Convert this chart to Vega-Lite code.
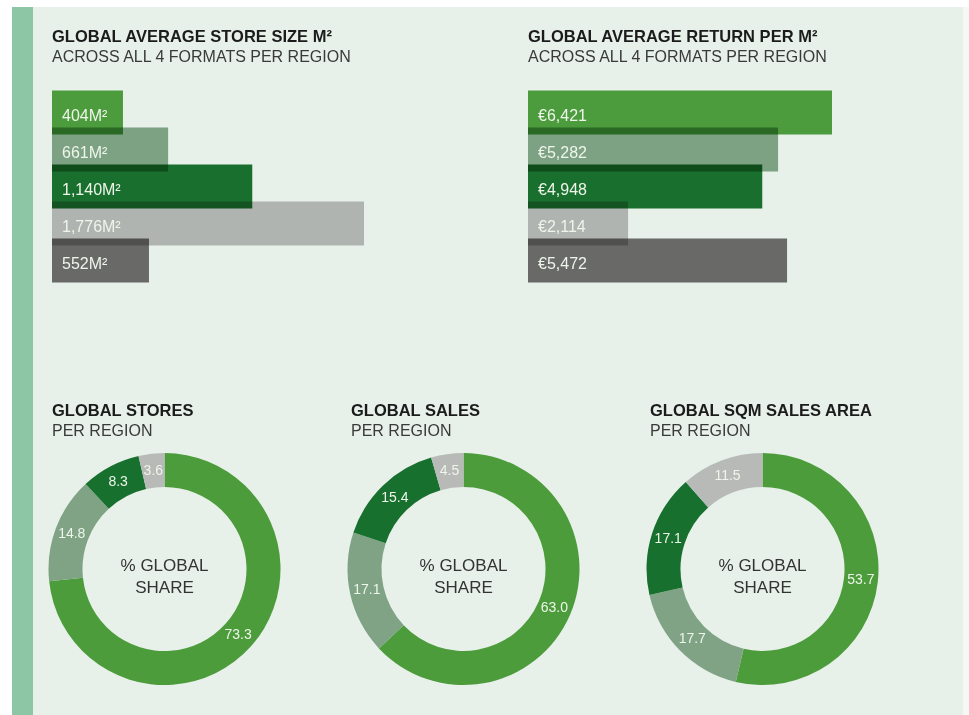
{
  "$schema": "https://vega.github.io/schema/vega-lite/v6.json",
  "background": "#e7f0e9",
  "padding": 0,
  "config": {
    "view": {"stroke": null},
    "font": "Liberation Sans",
    "title": {"anchor": "start", "frame": "group", "font": "Liberation Sans", "fontSize": 16.5, "fontWeight": "bold", "color": "#1b1b1b", "subtitleFont": "Liberation Sans", "subtitleFontSize": 16, "subtitleFontWeight": "normal", "subtitleColor": "#3a3a3a"}
  },
  "bounds": "flush",
  "spacing": 0,
  "resolve": {"scale": {"x": "independent", "y": "independent", "color": "independent", "theta": "independent"}},
  "vconcat": [
    {
      "width": 969, "height": 7,
      "view": {"fill": "#ffffff"},
      "data": {"values": [{"k": 1}]},
      "mark": {"type": "rect", "color": "#ffffff"},
      "encoding": {}
    },
    {
      "hconcat": [
        {
          "width": 12, "height": 708,
          "view": {"fill": "#ffffff"},
          "data": {"values": [{"k": 1}]},
          "mark": {"type": "rect", "color": "#ffffff"},
          "encoding": {}
        },
        {
          "width": 21, "height": 708,
          "view": {"fill": "#8dc6a4"},
          "data": {"values": [{"k": 1}]},
          "mark": {"type": "rect", "color": "#8dc6a4"},
          "encoding": {}
        },
        {
          "width": 19, "height": 708,
          "data": {"values": [{"k": 1}]},
          "mark": {"type": "rect", "opacity": 0},
          "encoding": {}
        },
        {
          "vconcat": [
            {
              "width": 1, "height": 86.5,
              "data": {"values": [{"k": 1}]},
              "mark": {"type": "rect", "opacity": 0},
              "encoding": {}
            },
            {
              "hconcat": [
                {
                  "width": 312, "height": 185,
                  "title": {"text": "GLOBAL AVERAGE STORE SIZE M²", "subtitle": "ACROSS ALL 4 FORMATS PER REGION", "subtitlePadding": 3, "offset": 26},
                  "data": {"values": [
                    {"region": "R1", "value": 404, "label": "404M²"},
                    {"region": "R2", "value": 661, "label": "661M²"},
                    {"region": "R3", "value": 1140, "label": "1,140M²"},
                    {"region": "R4", "value": 1776, "label": "1,776M²"},
                    {"region": "R5", "value": 552, "label": "552M²"}
                  ]},
                  "encoding": {"y": {"field": "region", "type": "nominal", "sort": null, "axis": null, "scale": {"paddingInner": 0, "paddingOuter": 0}}},
                  "layer": [
                    {
                      "mark": {"type": "bar", "height": 44, "blend": "multiply"},
                      "encoding": {
                        "x": {"field": "value", "type": "quantitative", "axis": null, "scale": {"domain": [0, 1776], "nice": false}},
                        "color": {"field": "region", "type": "nominal", "legend": null, "scale": {"domain": ["R1", "R2", "R3", "R4", "R5"], "range": ["#54a642", "#8aac8f", "#1b7732", "#c3bfc1", "#747172"]}}
                      }
                    },
                    {
                      "mark": {"type": "text", "align": "left", "dx": 10, "dy": 3, "fontSize": 16, "color": "#eef5ea"},
                      "encoding": {"x": {"datum": 0, "type": "quantitative"}, "text": {"field": "label"}}
                    }
                  ]
                },
                {
                  "width": 304, "height": 185,
                  "title": {"text": "GLOBAL AVERAGE RETURN PER M²", "subtitle": "ACROSS ALL 4 FORMATS PER REGION", "subtitlePadding": 3, "offset": 26},
                  "data": {"values": [
                    {"region": "R1", "value": 6421, "label": "€6,421"},
                    {"region": "R2", "value": 5282, "label": "€5,282"},
                    {"region": "R3", "value": 4948, "label": "€4,948"},
                    {"region": "R4", "value": 2114, "label": "€2,114"},
                    {"region": "R5", "value": 5472, "label": "€5,472"}
                  ]},
                  "encoding": {"y": {"field": "region", "type": "nominal", "sort": null, "axis": null, "scale": {"paddingInner": 0, "paddingOuter": 0}}},
                  "layer": [
                    {
                      "mark": {"type": "bar", "height": 44, "blend": "multiply"},
                      "encoding": {
                        "x": {"field": "value", "type": "quantitative", "axis": null, "scale": {"domain": [0, 6421], "nice": false}},
                        "color": {"field": "region", "type": "nominal", "legend": null, "scale": {"domain": ["R1", "R2", "R3", "R4", "R5"], "range": ["#54a642", "#8aac8f", "#1b7732", "#c3bfc1", "#747172"]}}
                      }
                    },
                    {
                      "mark": {"type": "text", "align": "left", "dx": 10, "dy": 3, "fontSize": 16, "color": "#eef5ea"},
                      "encoding": {"x": {"datum": 0, "type": "quantitative"}, "text": {"field": "label"}}
                    }
                  ]
                }
              ],
              "spacing": 164,
              "bounds": "flush",
              "resolve": {"scale": {"x": "independent", "y": "independent", "color": "independent"}}
            },
            {
              "width": 1, "height": 355,
              "data": {"values": [{"k": 1}]},
              "mark": {"type": "rect", "opacity": 0},
              "encoding": {}
            },
            {
              "hconcat": [
                {
                  "width": 225, "height": 240,
                  "title": {"text": "GLOBAL STORES", "subtitle": "PER REGION", "subtitlePadding": 4, "offset": 10},
                  "data": {"values": [
                    {"region": "R1", "idx": 1, "share": 73.3, "label": "73.3"},
                    {"region": "R2", "idx": 2, "share": 14.8, "label": "14.8"},
                    {"region": "R3", "idx": 3, "share": 8.3, "label": "8.3"},
                    {"region": "R4", "idx": 4, "share": 3.6, "label": "3.6"}
                  ]},
                  "layer": [
                    {
                      "mark": {"type": "arc", "innerRadius": 82, "outerRadius": 116},
                      "encoding": {
                        "theta": {"field": "share", "type": "quantitative", "stack": true},
                        "order": {"field": "idx", "type": "quantitative"},
                        "color": {"field": "region", "type": "nominal", "legend": null, "scale": {"domain": ["R1", "R2", "R3", "R4"], "range": ["#4c9c3c", "#7fa384", "#18702e", "#b8bab7"]}}
                      }
                    },
                    {
                      "mark": {"type": "text", "radius": 99, "fontSize": 14, "color": "#eef5ea"},
                      "encoding": {
                        "theta": {"field": "share", "type": "quantitative", "stack": true},
                        "order": {"field": "idx", "type": "quantitative"},
                        "text": {"field": "label"}
                      }
                    },
                    {
                      "data": {"values": [{"k": 1}]},
                      "mark": {"type": "text", "text": ["% GLOBAL", "SHARE"], "fontSize": 17, "lineHeight": 22, "dy": -3.5, "color": "#333333"},
                      "encoding": {}
                    }
                  ]
                },
                {
                  "width": 225, "height": 240,
                  "title": {"text": "GLOBAL SALES", "subtitle": "PER REGION", "subtitlePadding": 4, "offset": 10},
                  "data": {"values": [
                    {"region": "R1", "idx": 1, "share": 63.0, "label": "63.0"},
                    {"region": "R2", "idx": 2, "share": 17.1, "label": "17.1"},
                    {"region": "R3", "idx": 3, "share": 15.4, "label": "15.4"},
                    {"region": "R4", "idx": 4, "share": 4.5, "label": "4.5"}
                  ]},
                  "layer": [
                    {
                      "mark": {"type": "arc", "innerRadius": 82, "outerRadius": 116},
                      "encoding": {
                        "theta": {"field": "share", "type": "quantitative", "stack": true},
                        "order": {"field": "idx", "type": "quantitative"},
                        "color": {"field": "region", "type": "nominal", "legend": null, "scale": {"domain": ["R1", "R2", "R3", "R4"], "range": ["#4c9c3c", "#7fa384", "#18702e", "#b8bab7"]}}
                      }
                    },
                    {
                      "mark": {"type": "text", "radius": 99, "fontSize": 14, "color": "#eef5ea"},
                      "encoding": {
                        "theta": {"field": "share", "type": "quantitative", "stack": true},
                        "order": {"field": "idx", "type": "quantitative"},
                        "text": {"field": "label"}
                      }
                    },
                    {
                      "data": {"values": [{"k": 1}]},
                      "mark": {"type": "text", "text": ["% GLOBAL", "SHARE"], "fontSize": 17, "lineHeight": 22, "dy": -3.5, "color": "#333333"},
                      "encoding": {}
                    }
                  ]
                },
                {
                  "width": 225, "height": 240,
                  "title": {"text": "GLOBAL SQM SALES AREA", "subtitle": "PER REGION", "subtitlePadding": 4, "offset": 10},
                  "data": {"values": [
                    {"region": "R1", "idx": 1, "share": 53.7, "label": "53.7"},
                    {"region": "R2", "idx": 2, "share": 17.7, "label": "17.7"},
                    {"region": "R3", "idx": 3, "share": 17.1, "label": "17.1"},
                    {"region": "R4", "idx": 4, "share": 11.5, "label": "11.5"}
                  ]},
                  "layer": [
                    {
                      "mark": {"type": "arc", "innerRadius": 82, "outerRadius": 116},
                      "encoding": {
                        "theta": {"field": "share", "type": "quantitative", "stack": true},
                        "order": {"field": "idx", "type": "quantitative"},
                        "color": {"field": "region", "type": "nominal", "legend": null, "scale": {"domain": ["R1", "R2", "R3", "R4"], "range": ["#4c9c3c", "#7fa384", "#18702e", "#b8bab7"]}}
                      }
                    },
                    {
                      "mark": {"type": "text", "radius": 99, "fontSize": 14, "color": "#eef5ea"},
                      "encoding": {
                        "theta": {"field": "share", "type": "quantitative", "stack": true},
                        "order": {"field": "idx", "type": "quantitative"},
                        "text": {"field": "label"}
                      }
                    },
                    {
                      "data": {"values": [{"k": 1}]},
                      "mark": {"type": "text", "text": ["% GLOBAL", "SHARE"], "fontSize": 17, "lineHeight": 22, "dy": -3.5, "color": "#333333"},
                      "encoding": {}
                    }
                  ]
                }
              ],
              "spacing": 74,
              "bounds": "flush",
              "resolve": {"scale": {"theta": "independent", "color": "independent"}}
            }
          ],
          "spacing": 0,
          "bounds": "flush",
          "resolve": {"scale": {"x": "independent", "y": "independent", "color": "independent", "theta": "independent"}}
        },
        {
          "width": 911, "height": 708,
          "data": {"values": [{"k": 1}]},
          "mark": {"type": "rect", "opacity": 0},
          "encoding": {}
        },
        {
          "width": 6, "height": 708,
          "view": {"fill": "#f6f8f6"},
          "data": {"values": [{"k": 1}]},
          "mark": {"type": "rect", "color": "#f6f8f6"},
          "encoding": {}
        }
      ],
      "spacing": 0,
      "bounds": "flush",
      "resolve": {"scale": {"x": "independent", "y": "independent", "color": "independent", "theta": "independent"}}
    }
  ]
}
